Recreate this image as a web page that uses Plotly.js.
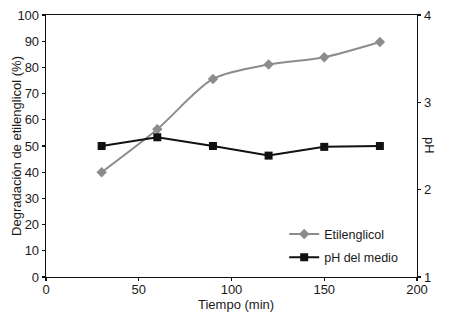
<!DOCTYPE html>
<html>
<head>
<meta charset="utf-8">
<script src="https://cdn.plot.ly/plotly-3.0.1.min.js"></script>
<style>html,body{margin:0;padding:0;background:#fff}#chart{width:450px;height:317px}</style>
</head>
<body>
<div id="chart"></div>
<script>
const tiempo = [30, 60, 90, 120, 150, 180];
const etilenglicol = [40, 56.4, 75.6, 81.1, 83.9, 89.7];
const phMedio = [2.5, 2.6, 2.5, 2.39, 2.49, 2.5];
const xTicks = [0, 50, 100, 150, 200];
const yTicks = [0, 10, 20, 30, 40, 50, 60, 70, 80, 90, 100];
const phTicks = [1, 2, 3, 4];

const font = 'Liberation Sans, Arial, sans-serif';
const txt = '#1a1a1a';

const traces = [
  {
    x: tiempo, y: etilenglicol, name: 'Etilenglicol', type: 'scatter', mode: 'lines+markers',
    legendgroup: 'a',
    line: {color: '#8c8c8c', width: 2, shape: 'spline', smoothing: 0.8},
    marker: {symbol: 'diamond', size: 8, color: '#8c8c8c'},
    xaxis: 'x', yaxis: 'y'
  },
  {
    x: tiempo, y: phMedio, name: 'pH del medio', type: 'scatter', mode: 'lines+markers',
    legendgroup: 'b',
    line: {color: '#111', width: 2},
    marker: {symbol: 'square', size: 8, color: '#111'},
    xaxis: 'x', yaxis: 'y2'
  }
];

const axBase = {
  showgrid: false, zeroline: false, showline: true, linecolor: '#111', linewidth: 1.3,
  tickcolor: '#111', tickwidth: 1.3, ticklen: 3,
  tickfont: {family: font, size: 13, color: txt}
};

const layout = {
  width: 450, height: 317,
  margin: {l: 46, r: 33, t: 15, b: 40},
  paper_bgcolor: '#fff', plot_bgcolor: '#fff',
  showlegend: true,
  legend: {x: 0.642, y: 0.22, xanchor: 'left', yanchor: 'top', bgcolor: 'rgba(0,0,0,0)',
           font: {family: font, size: 12.5, color: txt}, traceorder: 'grouped', tracegroupgap: 4, itemwidth: 30},
  xaxis: Object.assign({}, axBase, {
    range: [0, 200], tickvals: xTicks, ticks: 'outside', mirror: true, ticklabelstandoff: -3
  }),
  yaxis: Object.assign({}, axBase, {
    range: [0, 100], tickvals: yTicks, ticks: 'outside'
  }),
  yaxis2: Object.assign({}, axBase, {
    range: [1, 4], tickvals: phTicks, ticks: 'outside', overlaying: 'y', side: 'right', anchor: 'x'
  }),
  xaxis2: Object.assign({}, axBase, {
    range: [0, 200], tickvals: xTicks, ticks: 'inside', ticklen: 4, overlaying: 'x', anchor: 'y', showticklabels: false, showline: false
  }),
  yaxis3: Object.assign({}, axBase, {
    range: [0, 100], tickvals: yTicks, ticks: 'inside', ticklen: 4, overlaying: 'y', anchor: 'x', side: 'left', showticklabels: false, showline: false
  }),
  yaxis4: Object.assign({}, axBase, {
    range: [1, 4], tickvals: phTicks, ticks: 'inside', ticklen: 4, overlaying: 'y', anchor: 'x', side: 'right', showticklabels: false, showline: false
  }),
  annotations: [
    {text: 'pH', xref: 'paper', yref: 'paper', x: 1.035, y: 0.5, xanchor: 'center', yanchor: 'middle',
     showarrow: false, textangle: 90, font: {family: font, size: 13, color: txt}},
    {text: 'Degradación de etilenglicol (%)', xref: 'paper', yref: 'paper', x: -0.081, y: 0.5,
     xanchor: 'center', yanchor: 'middle', showarrow: false, textangle: -90, font: {family: font, size: 13, color: txt}},
    {text: 'Tiempo (min)', xref: 'paper', yref: 'paper', x: 0.512, y: -0.104,
     xanchor: 'center', yanchor: 'middle', showarrow: false, font: {family: font, size: 13, color: txt}}
  ]
};

Plotly.newPlot('chart', traces, layout, {displayModeBar: false, staticPlot: true});
</script>
</body>
</html>
